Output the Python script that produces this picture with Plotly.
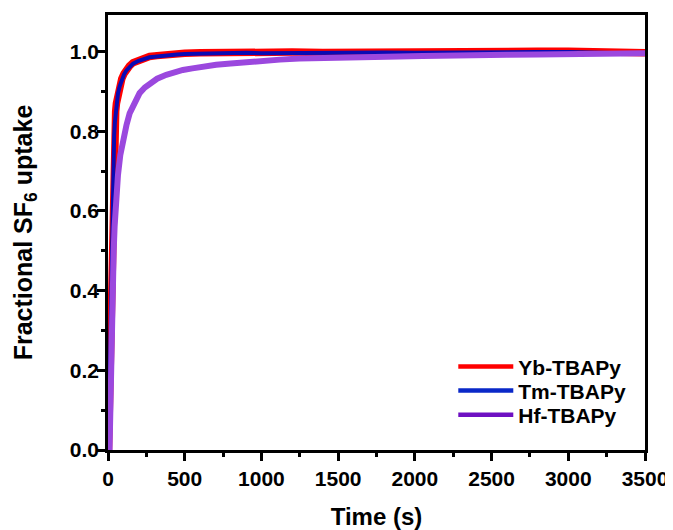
import plotly.graph_objects as go

# Data
t_yb = [3, 6, 10, 15, 20, 25, 30, 35, 40, 45, 50, 55, 65, 76, 90, 105, 120, 140, 163, 200, 240, 271, 320, 380, 450, 500, 600, 700, 800, 900, 1000, 1200, 1400, 1600, 1800, 2000, 2200, 2400, 2600, 2800, 3000, 3200, 3400, 3500]
v_yb = [0.0, 0.06, 0.17, 0.31, 0.45, 0.57, 0.67, 0.74, 0.79, 0.825, 0.85, 0.87, 0.897, 0.915, 0.932, 0.945, 0.955, 0.964, 0.972, 0.979, 0.985, 0.988, 0.99, 0.993, 0.995, 0.996, 0.997, 0.998, 0.998, 0.999, 0.998, 0.999, 0.998, 0.999, 1.0, 0.999, 1.0, 0.999, 1.0, 1.001, 1.001, 0.999, 0.998, 0.997]

t_tm = t_yb
v_tm = [0.0, 0.06, 0.17, 0.31, 0.45, 0.57, 0.67, 0.74, 0.79, 0.823, 0.848, 0.868, 0.895, 0.913, 0.93, 0.943, 0.953, 0.962, 0.97, 0.977, 0.983, 0.986, 0.988, 0.991, 0.993, 0.994, 0.995, 0.996, 0.996, 0.997, 0.996, 0.997, 0.996, 0.997, 0.998, 0.997, 0.998, 0.997, 0.998, 0.999, 0.999, 0.997, 0.996, 0.995]

t_hf = [10, 13, 17, 22, 27, 32, 37, 43, 50, 57, 65, 80, 98, 120, 141, 170, 206, 240, 271, 320, 380, 430, 488, 550, 600, 705, 800, 900, 1000, 1120, 1247, 1400, 1500, 1700, 1898, 2050, 2223, 2400, 2600, 2800, 3000, 3200, 3400, 3500]
v_hf = [0.0, 0.08, 0.17, 0.27, 0.36, 0.44, 0.50, 0.56, 0.615, 0.655, 0.69, 0.74, 0.78, 0.815, 0.845, 0.872, 0.896, 0.91, 0.92, 0.932, 0.942, 0.948, 0.954, 0.958, 0.962, 0.967, 0.97, 0.974, 0.977, 0.98, 0.983, 0.985, 0.986, 0.987, 0.988, 0.989, 0.989, 0.991, 0.992, 0.993, 0.994, 0.995, 0.996, 0.996]

names = ["Yb-TBAPy", "Tm-TBAPy", "Hf-TBAPy"]
curve_colors = ["#FF0000", "#0A0AB4", "#9B48DE"]
legend_colors = ["#FF0000", "#0A28C8", "#6E10C2"]

x_ticks = [0, 500, 1000, 1500, 2000, 2500, 3000, 3500]
y_ticks = [0.0, 0.2, 0.4, 0.6, 0.8, 1.0]

FAM = "Liberation Sans, Arial, sans-serif"

fig = go.Figure()
fig.add_trace(go.Scatter(x=t_yb, y=v_yb, mode="lines", line=dict(color=curve_colors[0], width=7.5), showlegend=False))
fig.add_trace(go.Scatter(x=t_tm, y=v_tm, mode="lines", line=dict(color=curve_colors[1], width=4), showlegend=False))
fig.add_trace(go.Scatter(x=t_hf, y=v_hf, mode="lines", line=dict(color=curve_colors[2], width=6), showlegend=False))
legend_ids = ["legend", "legend2", "legend3"]
for n, c, lg in zip(names, legend_colors, legend_ids):
    fig.add_trace(go.Scatter(x=[None], y=[None], mode="lines", name=n, line=dict(color=c, width=4.5), legend=lg))

leg_font = dict(family=FAM, size=21, color="black", weight="bold")
leg_common = dict(x=0.643, xanchor="left", yanchor="middle", bgcolor="rgba(0,0,0,0)", font=leg_font, itemwidth=55)

fig.update_layout(
    width=665, height=522,
    margin=dict(l=100, r=28, t=7, b=80),
    paper_bgcolor="white", plot_bgcolor="white",
    font=dict(family=FAM, size=20, color="black", weight="bold"),
    showlegend=True,
    legend=dict(y=0.191, **leg_common),
    legend2=dict(y=0.136, **leg_common),
    legend3=dict(y=0.080, **leg_common),
)
fig.update_xaxes(
    range=[0, 3500], tickvals=x_ticks, ticks="outside", ticklen=8, tickwidth=2.5, tickcolor="black",
    showline=True, linewidth=2.5, linecolor="black", mirror=True, showgrid=False, zeroline=False,
    minor=dict(dtick=250, tick0=0, ticks="outside", ticklen=4.5, tickwidth=2.5, tickcolor="black", showgrid=False),
    title=dict(text="Time (s)", font=dict(family=FAM, size=24, weight="bold"), standoff=20),
    tickfont=dict(family=FAM, size=21, weight="bold"), ticklabelstandoff=0, automargin=False,
)
fig.update_yaxes(
    range=[0, 1.092], tickvals=y_ticks, tickformat=".1f", ticks="outside", ticklen=8, tickwidth=2.5, tickcolor="black",
    showline=True, linewidth=2.5, linecolor="black", mirror=True, showgrid=False, zeroline=False,
    minor=dict(dtick=0.1, tick0=0, ticks="outside", ticklen=4.5, tickwidth=2.5, tickcolor="black", showgrid=False),
    title=dict(text="Fractional SF<sub>6</sub> uptake", font=dict(family=FAM, size=25, weight="bold"), standoff=31),
    tickfont=dict(family=FAM, size=21, weight="bold"), ticklabelstandoff=-6, automargin=False,
)

fig.write_html("out.html")
